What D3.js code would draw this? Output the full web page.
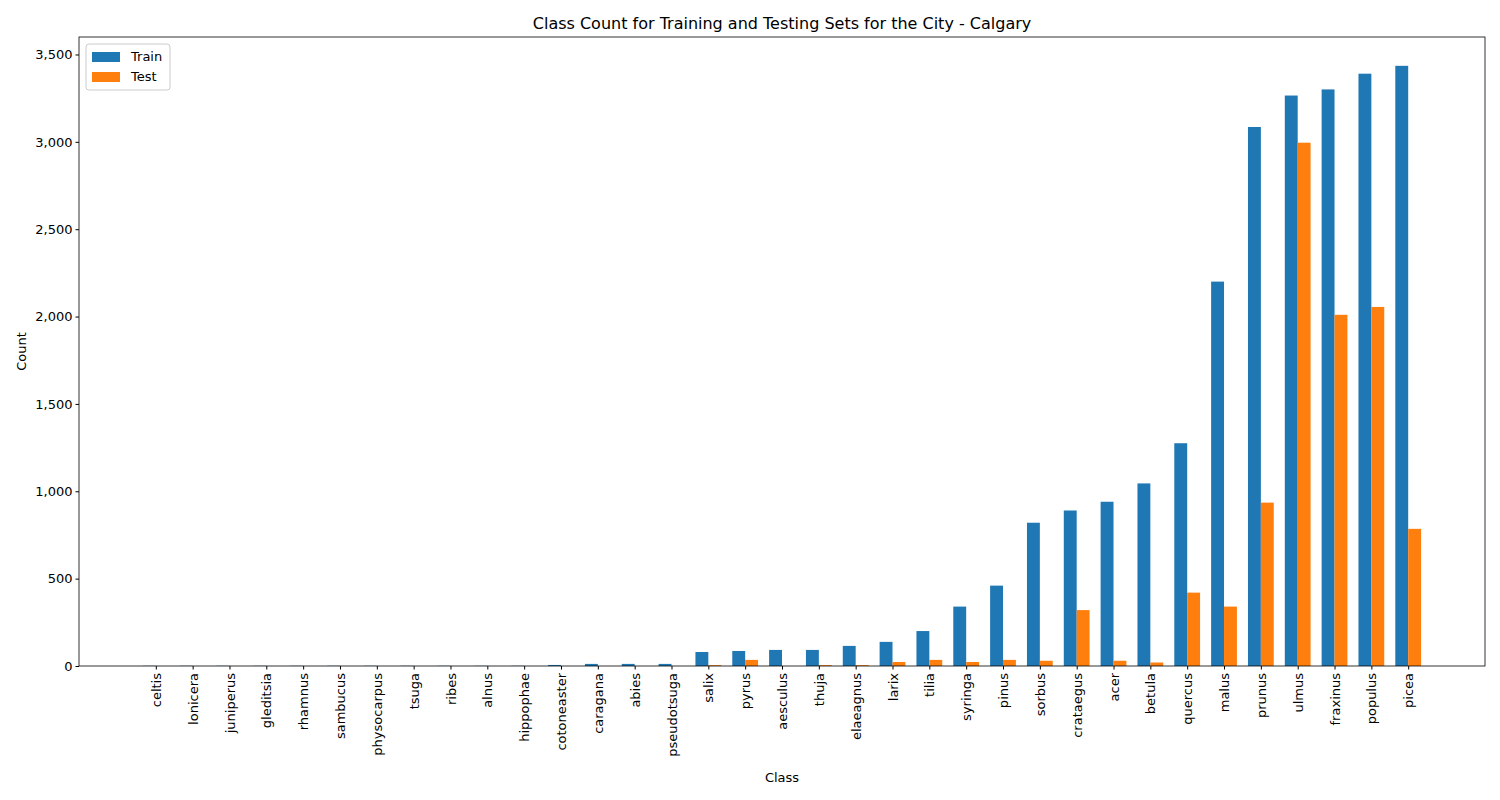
<!DOCTYPE html>
<html><head><meta charset="utf-8">
<script src="https://cdn.jsdelivr.net/npm/d3@7"></script>
<style>body{margin:0;background:#fff}text{font-family:"DejaVu Sans",sans-serif}</style>
</head><body><svg width="1500" height="800"></svg>
<script>
// classes in order of train count
const classes = ["celtis","lonicera","juniperus","gleditsia","rhamnus","sambucus","physocarpus","tsuga","ribes","alnus","hippophae","cotoneaster","caragana","abies","pseudotsuga","salix","pyrus","aesculus","thuja","elaeagnus","larix","tilia","syringa","pinus","sorbus","crataegus","acer","betula","quercus","malus","prunus","ulmus","fraxinus","populus","picea"];
const train = [1,1,1,1,1,1,1,1,1,1,1,6,12,12,12,80,86,92,92,115,138,200,340,460,820,890,940,1045,1275,2200,3085,3265,3300,3390,3435];
const test = [0,0,0,0,0,0,0,0,0,0,0,0,0,0,0,5,35,0,5,5,23,35,23,35,30,320,30,20,420,340,935,2995,2010,2055,785];
const yTicks = [0,500,1000,1500,2000,2500,3000,3500];

const svg = d3.select("svg");
const L = 79, R = 1485, T = 37, B = 666;
const w = 0.35;
const x = d3.scaleLinear().domain([-2.085, 36.085]).range([L, R]);
const y = d3.scaleLinear().domain([0, 3600]).range([B, T]);

svg.append("g").selectAll("rect").data(train).join("rect")
  .attr("x", (d, i) => x(i - w)).attr("width", x(w) - x(0))
  .attr("y", d => y(d)).attr("height", d => B - y(d)).attr("fill", "#1f77b4");
svg.append("g").selectAll("rect").data(test).join("rect")
  .attr("x", (d, i) => x(i)).attr("width", x(w) - x(0))
  .attr("y", d => y(d)).attr("height", d => B - y(d)).attr("fill", "#ff7f0e");

// axes
const xa = svg.append("g").attr("transform", `translate(0,${B})`)
  .call(d3.axisBottom(x).tickValues(d3.range(classes.length)).tickFormat(i => classes[i]).tickSize(3.5).tickSizeOuter(0));
xa.selectAll("text").attr("transform", "rotate(-90)").attr("text-anchor", "end")
  .attr("x", -7).attr("y", 0).attr("dy", "0.35em").attr("font-size", 13).attr("fill", "#000");
const ya = svg.append("g").attr("transform", `translate(${L},0)`)
  .call(d3.axisLeft(y).tickValues(yTicks).tickSize(3.5).tickSizeOuter(0));
ya.selectAll("text").attr("font-size", 13).attr("fill", "#000");
[xa, ya].forEach(a => { a.select(".domain").remove(); a.selectAll("line").attr("stroke", "#000"); });
svg.append("rect").attr("x", L).attr("y", T).attr("width", R - L).attr("height", B - T)
  .attr("fill", "none").attr("stroke", "#000").attr("stroke-width", 0.8);

svg.append("text").attr("x", (L + R) / 2).attr("y", 29).attr("text-anchor", "middle").attr("font-size", 16)
  .text("Class Count for Training and Testing Sets for the City - Calgary");
svg.append("text").attr("x", (L + R) / 2).attr("y", 782).attr("text-anchor", "middle").attr("font-size", 13).text("Class");
svg.append("text").attr("transform", `translate(26,${(T + B) / 2}) rotate(-90)`).attr("text-anchor", "middle").attr("font-size", 13).text("Count");

// legend
const lg = svg.append("g").attr("transform", "translate(86,44)");
lg.append("rect").attr("width", 84).attr("height", 46).attr("rx", 3).attr("fill", "#fff").attr("stroke", "#ccc");
[["Train", "#1f77b4"], ["Test", "#ff7f0e"]].forEach(([t, c], i) => {
  lg.append("rect").attr("x", 6).attr("y", 8 + i * 20).attr("width", 28).attr("height", 10).attr("fill", c);
  lg.append("text").attr("x", 45).attr("y", 17 + i * 20).attr("font-size", 13).text(t);
});
</script></body></html>
